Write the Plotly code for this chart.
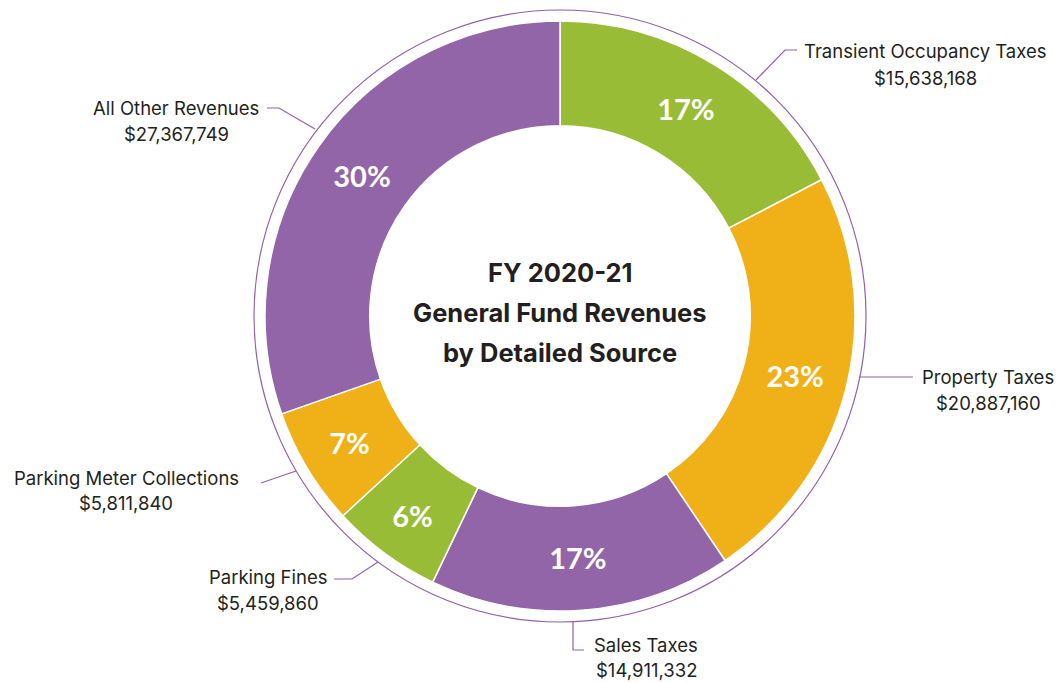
import plotly.graph_objects as go

# ---- data ----
categories = ["Transient Occupancy Taxes", "Property Taxes", "Sales Taxes",
              "Parking Fines", "Parking Meter Collections", "All Other Revenues"]
values = [15638168, 20887160, 14911332, 5459860, 5811840, 27367749]
pct_labels = ["17%", "23%", "17%", "6%", "7%", "30%"]
title_lines = ["FY 2020-21", "General Fund Revenues", "by Detailed Source"]

# ---- styling ----
GREEN = "#98BC35"
ORANGE = "#F0B017"
PURPLE = "#9265A8"
LINE = "#9060AA"
TEXT = "#231F20"
colors = [GREEN, ORANGE, PURPLE, GREEN, ORANGE, PURPLE]

W, H = 1059, 683
CX, CY = 560, 316          # pie centre (px, from top-left)
R = 295                    # donut outer radius
RING = 306                 # thin outer ring radius


def px(x):
    return x / W


def py(y):
    return 1 - y / H


fig = go.Figure(go.Pie(
    labels=categories,
    values=values,
    text=pct_labels,
    textinfo="text",
    textposition="inside",
    insidetextorientation="horizontal",
    textfont=dict(family="Lato", size=29, color="white", weight="bold"),
    marker=dict(colors=colors, line=dict(color="white", width=1.5)),
    hole=0.645,
    sort=False,
    direction="clockwise",
    rotation=0,
    showlegend=False,
    domain=dict(x=[px(CX - R), px(CX + R)], y=[py(CY + R), py(CY - R)]),
    hovertemplate="%{label}<br>$%{value:,}<extra></extra>",
))

shapes = [dict(type="circle", xref="paper", yref="paper",
               x0=px(CX - RING), x1=px(CX + RING),
               y0=py(CY + RING), y1=py(CY - RING),
               line=dict(color=LINE, width=1.2), layer="below")]

# leader lines (layout positions, px)
leaders = [
    [(756, 80), (785, 50), (797, 50)],          # Transient
    [(859, 377), (913, 377)],                   # Property
    [(573, 621), (573, 650), (584, 650)],       # Sales
    [(378, 562), (352, 579), (334, 579)],       # Parking Fines
    [(296, 471), (261, 483)],                   # Parking Meter
    [(315, 129), (279, 108), (267, 108)],       # All Other
]
for pts in leaders:
    d = "M " + " L ".join(f"{px(x):.5f},{py(y):.5f}" for x, y in pts)
    shapes.append(dict(type="path", xref="paper", yref="paper", path=d,
                       line=dict(color=LINE, width=1.2)))

# label positions: (centre x, name y, value y) in px
label_pos = [
    (925, 51, 78),
    (988, 377, 403),
    (646, 645, 670),
    (268, 577, 603),
    (126, 478, 503),
    (176, 108, 134),
]

annotations = []
for name, val, (x, y1, y2) in zip(categories, values, label_pos):
    annotations.append(dict(x=px(x), y=py(y1), xref="paper", yref="paper",
                            text=name, showarrow=False, xanchor="center",
                            yanchor="middle",
                            font=dict(family="Inter", size=18.5, color=TEXT)))
    annotations.append(dict(x=px(x), y=py(y2), xref="paper", yref="paper",
                            text=f"${val:,}", showarrow=False, xanchor="center",
                            yanchor="middle",
                            font=dict(family="Inter", size=18.5, color=TEXT)))

for i, line in enumerate(title_lines):
    annotations.append(dict(x=px(CX), y=py(272 + 40 * i), xref="paper", yref="paper",
                            text=f"<b>{line}</b>", showarrow=False,
                            xanchor="center", yanchor="middle",
                            font=dict(family="Inter", size=25.5, color=TEXT)))

fig.update_layout(
    width=W, height=H,
    margin=dict(l=0, r=0, t=0, b=0),
    paper_bgcolor="white",
    plot_bgcolor="white",
    shapes=shapes,
    annotations=annotations,
)

fig.write_html("out.html",
               config={"displayModeBar": False},
               post_script="document.body.style.margin='0';"
                           "document.body.style.overflow='hidden';")
